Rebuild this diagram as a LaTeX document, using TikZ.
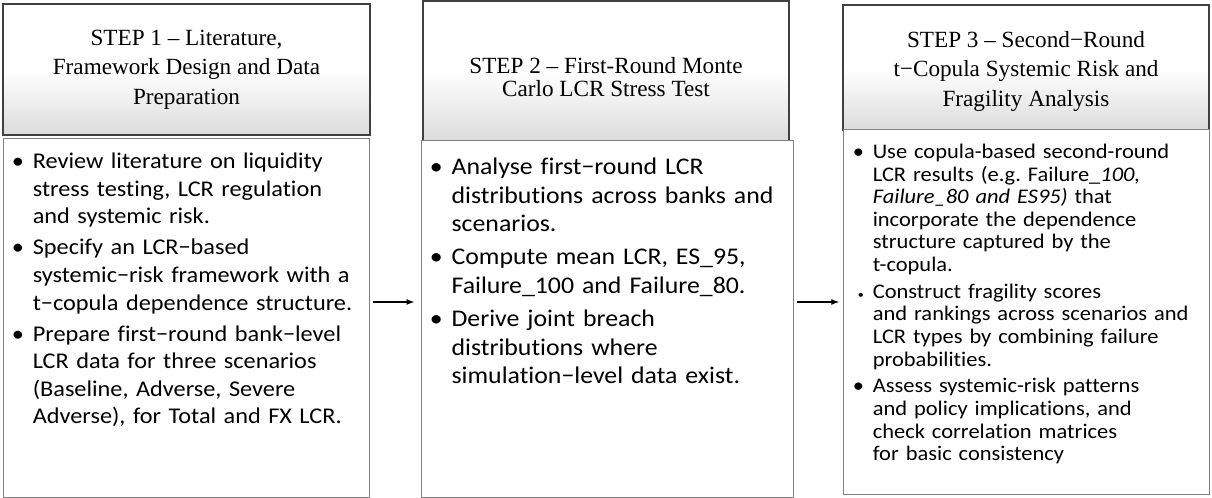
\documentclass[tikz,border=0pt]{standalone}
\usepackage{fontspec}
\setmainfont{Liberation Serif}
\newfontfamily\calibri[FakeStretch=1.08,Ligatures=NoCommon]{Carlito}
\usepackage{enumitem}
\usetikzlibrary{arrows.meta,positioning}
\definecolor{headline}{RGB}{64,64,64}
\definecolor{bodyline}{RGB}{128,128,128}
\definecolor{headshade}{RGB}{220,220,220}
\newlist{steplist}{itemize}{1}
\setlist[steplist]{label=\textbullet,leftmargin=0.55cm,labelsep=0.22cm,
  topsep=0pt,partopsep=0pt,parsep=0pt,itemsep=0.09cm}
\frenchspacing
\tikzset{
  flow/.style={-{Latex[length=2mm,width=1.5mm]},line width=0.8pt},
  headbox/.style={draw=headline,line width=0.9pt,top color=white,bottom color=headshade,
                  middle color=white,minimum width=9.15cm},
  headtitle/.style={align=center,inner sep=0pt,font=\fontsize{16.5}{21}\selectfont},
  panel/.style={draw=bodyline,line width=0.7pt,fill=white,minimum width=9.15cm},
  points/.style={inner sep=0pt,anchor=north west,align=left,text width=8.8cm,
                 font=\calibri\fontsize{16}{19.6}\selectfont},
}

\begin{document}
\begin{tikzpicture}[x=1cm,y=1cm]
  \path[use as bounding box] (0,0) rectangle (30.3,12.45);

  % step headers
  \node[headbox,minimum width=9.175cm,minimum height=3.275cm] (head1) at (4.6625,10.7125) {};
  \node[headbox,minimum height=3.5cm] (head2) at (15.15,10.675) {};
  \node[headbox,minimum height=3.125cm] (head3) at (25.65,10.7625) {};
  \node[headtitle] (title1) at (head1) {STEP 1 – Literature,\\ Framework Design and Data\\ Preparation};
  \node[headtitle,font=\fontsize{16.5}{16.4}\selectfont] (title2) at ([yshift=-1.6mm]head2.center)
    {STEP 2 – First-Round Monte\\ Carlo LCR Stress Test};
  \node[headtitle] (title3) at ([yshift=-0.9mm]head3.center)
    {STEP 3 – Second−Round\\ t−Copula Systemic Risk and\\ Fragility Analysis};

  % step bodies
  \node[panel,minimum height=8.95cm] (body1) at (4.65,4.5) {};
  \node[panel,minimum width=9.3cm,minimum height=8.9cm] (body2) at (15.175,4.475) {};
  \node[panel,minimum height=9.1cm] (body3) at (25.65,4.65) {};

  \node[points] (list1) at ([xshift=2mm,yshift=-0.6mm]body1.north west)
    {\begin{steplist}
       \item Review literature on liquidity\\ stress testing, LCR regulation\\ and systemic risk.
       \item Specify an LCR−based\\ systemic−risk framework with a\\ t−copula dependence structure.
       \item Prepare first−round bank−level\\ LCR data for three scenarios\\ (Baseline, Adverse, Severe\\ Adverse), for Total and FX LCR.
     \end{steplist}};
  \node[points,font=\calibri\fontsize{17}{20.3}\selectfont] (list2) at ([xshift=2.2mm,yshift=-1.3mm]body2.north west)
    {\begin{steplist}[itemsep=0.12cm]
       \item Analyse first−round LCR\\ distributions across banks and\\ scenarios.
       \item Compute mean LCR, ES\_95,\\ Failure\_100 and Failure\_80.
       \item Derive joint breach\\ distributions where\\ simulation−level data exist.
     \end{steplist}};
  \node[points,font=\calibri\fontsize{14.8}{16.1}\selectfont] (list3) at ([xshift=2mm,yshift=-1.5mm]body3.north west)
    {\begin{steplist}[itemsep=0.1cm]
       \item Use copula-based second-round\\ LCR results (e.g. Failure\_\textit{100,}\\ \textit{Failure\_80 and ES95)} that\\ incorporate the dependence\\ structure captured by the\\ t-copula.
       \item[{\footnotesize\textbullet}] Construct fragility scores\\ and rankings across scenarios and\\ LCR types by combining failure\\ probabilities.
       \item Assess systemic-risk patterns\\ and policy implications, and\\ check correlation matrices\\ for basic consistency
     \end{steplist}};

  % arrows between steps
  \draw[flow,shorten <=0.8mm,shorten >=1.5mm] ([yshift=4mm]body1.east) -- ([yshift=4mm]body1.east -| body2.west);
  \draw[flow,shorten <=1mm,shorten >=0.8mm] ([yshift=4.25mm]body2.east) -- ([yshift=4.25mm]body2.east -| body3.west);
\end{tikzpicture}
\end{document}
